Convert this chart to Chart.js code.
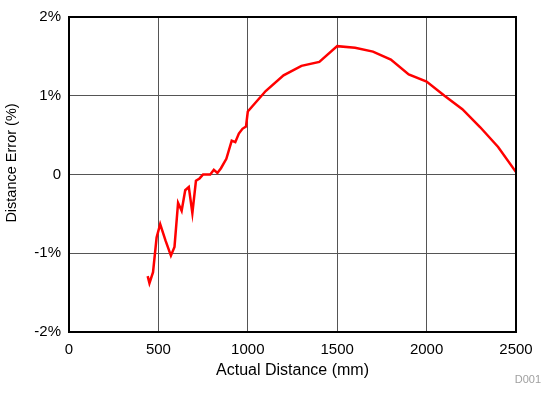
<!DOCTYPE html>
<html>
<head>
<meta charset="utf-8">
<script src="https://cdn.jsdelivr.net/npm/chart.js@4"></script>
<style>
  html, body { margin: 0; padding: 0; background: #fff; }
  #wrap { width: 552px; height: 394px; }
</style>
</head>
<body>
<div id="wrap"><canvas id="chart" width="552" height="394"></canvas></div>
<script>
const distances = [440, 450, 470, 490, 510, 540, 570, 590, 610, 630, 650, 670, 690, 710, 730, 750, 790, 810, 830, 850, 880, 910, 930, 950, 970, 990, 1000,
  1100, 1200, 1300, 1400, 1500, 1600, 1700, 1800, 1900, 2000, 2100, 2200, 2300, 2400, 2500];
const errors = [-1.29, -1.38, -1.24, -0.80, -0.63, -0.84, -1.03, -0.92, -0.36, -0.46, -0.20, -0.16, -0.49, -0.08, -0.05, 0.0, 0.0, 0.06, 0.02, 0.08, 0.20, 0.43, 0.41, 0.52, 0.58, 0.61, 0.80,
  1.06, 1.26, 1.38, 1.43, 1.63, 1.61, 1.56, 1.46, 1.27, 1.18, 1.00, 0.83, 0.60, 0.35, 0.03];
const xTicks = [0, 500, 1000, 1500, 2000, 2500];
const yTicks = [-2, -1, 0, 1, 2];

const FONT = '"Liberation Sans", Arial, sans-serif';

// border round the plot area, y title (sits a bit above centre) and the figure tag
const framePlugin = {
  id: 'frame',
  afterDraw(chart) {
    const { ctx, chartArea: a } = chart;
    ctx.save();
    ctx.strokeStyle = '#000';
    ctx.lineWidth = 2;
    ctx.strokeRect(a.left, a.top, a.right - a.left, a.bottom - a.top);

    ctx.fillStyle = '#000';
    ctx.font = '14.5px ' + FONT;
    ctx.textAlign = 'center';
    ctx.textBaseline = 'middle';
    ctx.translate(12, 163);
    ctx.rotate(-Math.PI / 2);
    ctx.fillText('Distance Error (%)', 0, 0);
    ctx.setTransform(1, 0, 0, 1, 0, 0);

    ctx.fillStyle = '#a0a0a0';
    ctx.font = '11px ' + FONT;
    ctx.textAlign = 'right';
    ctx.fillText('D001', 541, 380);
    ctx.restore();
  }
};

new Chart(document.getElementById('chart'), {
  type: 'scatter',
  data: {
    datasets: [{
      data: distances.map((d, i) => ({ x: d, y: errors[i] })),
      showLine: true,
      borderColor: '#ff0000',
      borderWidth: 2.5,
      pointRadius: 0,
      tension: 0
    }]
  },
  options: {
    responsive: false,
    animation: false,
    layout: { padding: { top: 15, right: 36, left: 0, bottom: 10 } },
    plugins: { legend: { display: false }, tooltip: { enabled: false } },
    scales: {
      x: {
        type: 'linear',
        min: 0, max: 2500,
        afterBuildTicks: s => { s.ticks = xTicks.map(v => ({ value: v })); },
        afterFit: s => { s.height = 52; },
        grid: { color: '#555', lineWidth: 1, drawTicks: false },
        border: { display: false },
        ticks: { color: '#000', padding: 9, font: { family: FONT, size: 15 }, callback: v => String(v) },
        title: { display: true, text: 'Actual Distance (mm)', color: '#000', padding: { top: 0 }, font: { family: FONT, size: 16 } }
      },
      y: {
        min: -2, max: 2,
        afterBuildTicks: s => { s.ticks = yTicks.map(v => ({ value: v })); },
        afterFit: s => { s.width = 69; },
        grid: { color: '#555', lineWidth: 1, drawTicks: false },
        border: { display: false },
        ticks: {
          color: '#000', padding: 8, font: { family: FONT, size: 15 },
          callback: v => v === 0 ? '0' : v + '%'
        }
      }
    }
  },
  plugins: [framePlugin]
});
</script>
</body>
</html>
